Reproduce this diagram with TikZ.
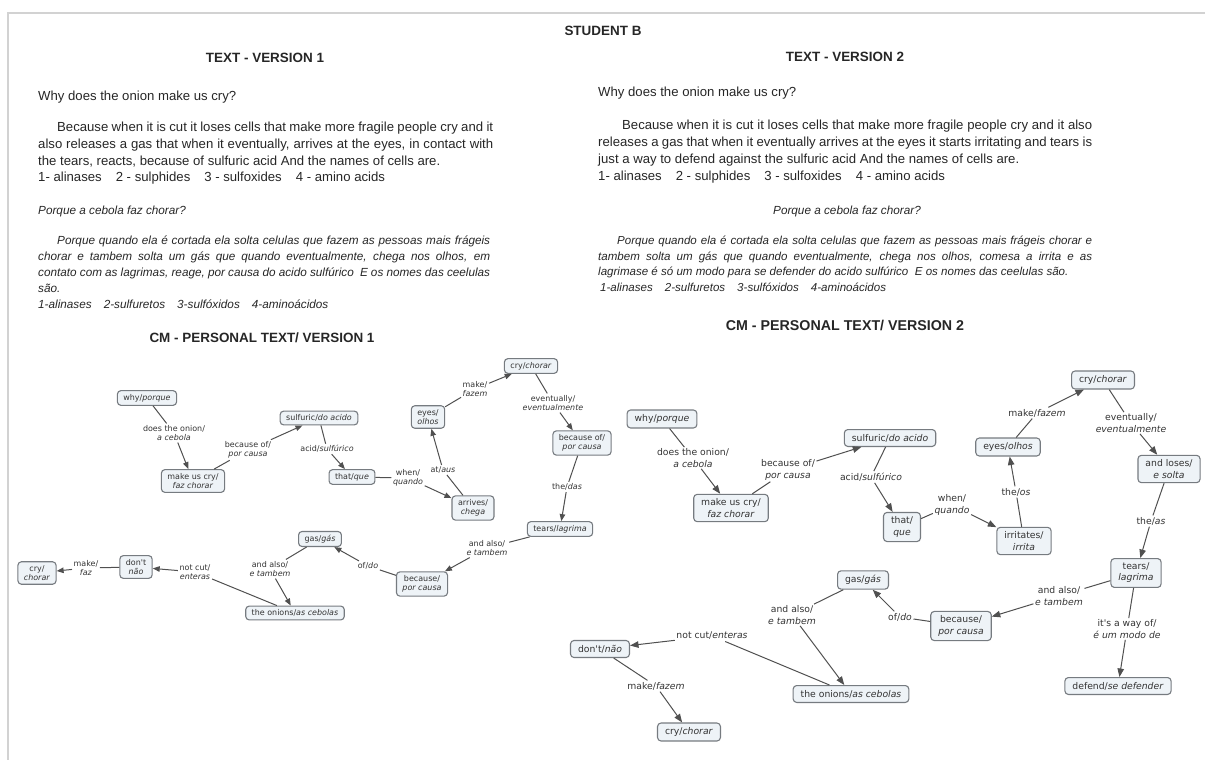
\documentclass[tikz,border=0pt]{standalone}
\usepackage{fontspec}
\setmainfont{Liberation Sans}
\newfontfamily\mapfont{DejaVu Sans}
\usepackage{xcolor}
\usetikzlibrary{arrows.meta}

\definecolor{cfill}{HTML}{EEF3F7}
\definecolor{cborder}{HTML}{767B80}
\definecolor{ctext}{HTML}{333333}
\definecolor{cline}{HTML}{505050}
\definecolor{btext}{HTML}{262626}
\definecolor{framegray}{HTML}{D2D2D2}

\begin{document}
\begin{tikzpicture}[
  x=1bp, y=-1bp,
  every node/.style={text=btext},
  heading/.style={font=\bfseries\fontsize{13.5}{16}\selectfont, inner sep=0pt},
  body/.style={font=\fontsize{13.2}{16.7}\selectfont, inner sep=0pt,
    anchor=north west, align=justify},
  bodyit/.style={font=\itshape\fontsize{11.8}{15.9}\selectfont, inner sep=0pt,
    anchor=north west, align=justify},
  concept/.style={rectangle, rounded corners=3.5bp, draw=cborder,
    line width=1.1bp, fill=cfill, text=ctext, align=center,
    inner xsep=6bp, inner ysep=3.5bp, font=\mapfont\fontsize{8}{9.6}\selectfont},
  link/.style={inner sep=1.5bp, text=ctext, align=center,
    font=\mapfont\fontsize{8}{9.6}\selectfont},
  bigconcept/.style={concept, inner xsep=7.5bp, inner ysep=4.5bp,
    font=\mapfont\fontsize{9.3}{11.2}\selectfont},
  biglink/.style={link, font=\mapfont\fontsize{9.3}{11.2}\selectfont},
  ln/.style={draw=cline, line width=1bp},
  arr/.style={ln, -{Triangle[length=7bp, width=5.5bp]}},
  bigarr/.style={ln, -{Triangle[length=8.5bp, width=6.5bp]}}
]
\useasboundingbox (0,0) rectangle (1205,760);
\draw[framegray, line width=1.5bp] (8,760) -- (8,13) -- (1205,13);

% headings and texts
\node[heading] (student) at (603,31) {STUDENT B};
\node[heading] (tv1) at (265,58) {TEXT - VERSION 1};
\node[heading] (tv2) at (845,57) {TEXT - VERSION 2};

\node[body, align=left] (q1) at (38,91) {Why does the onion make us cry?};
\node[body, text width=455bp] (en1) at (38,122) {%
  \hspace*{19bp}Because when it is cut it loses cells that make more fragile
  people cry and it\linebreak also releases a gas that when it eventually,
  arrives at the eyes, in contact with\linebreak the tears, reacts, because of
  sulfuric acid And the names of cells are.\\
  1- alinases\hspace{14bp}2 - sulphides\hspace{14bp}3 - sulfoxides\hspace{14bp}4 - amino acids};
\node[bodyit, align=left] (qp1) at (38,206) {Porque a cebola faz chorar?};
\node[bodyit, text width=452bp] (pt1) at (38,236) {%
  \hspace*{19bp}Porque quando ela é cortada ela solta celulas que fazem as
  pessoas mais frágeis\linebreak chorar e tambem solta um gás que quando
  eventualmente, chega nos olhos, em\linebreak contato com as lagrimas, reage,
  por causa do acido sulfúrico\ \ E os nomes das ceelulas\linebreak são.\\
  1-alinases\hspace{12bp}2-sulfuretos\hspace{12bp}3-sulfóxidos\hspace{12bp}4-aminoácidos};

\node[body, align=left] (q2) at (598,87) {Why does the onion make us cry?};
\node[body, text width=494bp, font=\fontsize{13.2}{17.1}\selectfont] (en2) at (598,120) {%
  \hspace*{24bp}Because when it is cut it loses cells that make more fragile
  people cry and it also\linebreak releases a gas that when it eventually
  arrives at the eyes it starts irritating and tears is\linebreak just a way to
  defend against the sulfuric acid And the names of cells are.\\
  1- alinases\hspace{14bp}2 - sulphides\hspace{14bp}3 - sulfoxides\hspace{14bp}4 - amino acids};
\node[bodyit, anchor=center, align=center] (qp2) at (847,211) {Porque a cebola faz chorar?};
\node[bodyit, text width=494bp, font=\itshape\fontsize{11.6}{15.5}\selectfont] (pt2) at (598,236) {%
  \hspace*{19bp}Porque quando ela é cortada ela solta celulas que fazem as
  pessoas mais frágeis chorar e\linebreak tambem solta um gás que quando
  eventualmente, chega nos olhos, comesa a irrita e as\linebreak lagrimase é
  só um modo para se defender do acido sulfúrico\ \ E os nomes das ceelulas são.\\
  \hspace*{2bp}1-alinases\hspace{12bp}2-sulfuretos\hspace{12bp}3-sulfóxidos\hspace{12bp}4-aminoácidos};

\node[heading] (cm1) at (262,338) {CM - PERSONAL TEXT/ VERSION 1};
\node[heading, font=\bfseries\fontsize{14.3}{17}\selectfont] (cm2) at (845,325) {CM - PERSONAL TEXT/ VERSION 2};

% concept map 1
\node[concept] (why1) at (147,398) {why/\textit{porque}};
\node[concept] (make1) at (193,481) {make us cry/\\\textit{faz chorar}};
\node[concept] (sulf1) at (319,418) {sulfuric/\textit{do acido}};
\node[concept] (that1) at (352,477) {that/\textit{que}};
\node[concept] (arrv1) at (473,508) {arrives/\\\textit{chega}};
\node[concept] (eyes1) at (428,417) {eyes/\\\textit{olhos}};
\node[concept] (cry1) at (531,366) {cry/\textit{chorar}};
\node[concept] (bec1) at (582,443) {because of/\\\textit{por causa}};
\node[concept] (tears1) at (560,529) {tears/\textit{lagrima}};
\node[concept] (cause1) at (422,584) {because/\\\textit{por causa}};
\node[concept] (gas1) at (320,539) {gas/\textit{gás}};
\node[concept] (onion1) at (295,613) {the onions/\textit{as cebolas}};
\node[concept] (dont1) at (136,567) {don't\\\textit{não}};
\node[concept] (cryb1) at (37,573) {cry/\\\textit{chorar}};

\node[link] (l1) at (174,433) {does the onion/\\\textit{a cebola}};
\node[link] (l2) at (248,450) {because of/\\\textit{por causa}};
\node[link] (l3) at (327,449) {acid/\textit{sulfúrico}};
\node[link] (l4) at (408,478) {when/\\\textit{quando}};
\node[link] (l5) at (443,470) {at/\textit{aus}};
\node[link] (l6) at (475,389) {make/\\\textit{fazem}};
\node[link] (l7) at (553,403) {eventually/\\\textit{eventualmente}};
\node[link] (l8) at (567,487) {the/\textit{das}};
\node[link] (l9) at (487,548) {and also/\\\textit{e tambem}};
\node[link] (l10) at (368,566) {of/\textit{do}};
\node[link] (l11) at (270,569) {and also/\\\textit{e tambem}};
\node[link] (l12) at (195,572) {not cut/\\\textit{enteras}};
\node[link] (l13) at (86,568) {make/\\\textit{faz}};

\draw[ln] (why1) -- (l1); \draw[arr] (l1) -- (make1);
\draw[ln] (make1) -- (l2); \draw[arr] (l2) -- (sulf1);
\draw[ln] (sulf1) -- (l3); \draw[arr] (l3) -- (that1);
\draw[ln] (that1) -- (l4); \draw[arr] (l4) -- (arrv1);
\draw[ln] (arrv1) -- (l5); \draw[arr] (l5) -- (eyes1);
\draw[ln] (eyes1) -- (l6); \draw[arr] (l6) -- (cry1);
\draw[ln] (cry1) -- (l7); \draw[arr] (l7) -- (bec1);
\draw[ln] (bec1) -- (l8); \draw[arr] (l8) -- (tears1);
\draw[ln] (tears1) -- (l9); \draw[arr] (l9) -- (cause1);
\draw[ln] (cause1) -- (l10); \draw[arr] (l10) -- (gas1);
\draw[ln] (gas1) -- (l11); \draw[arr] (l11) -- (onion1);
\draw[ln] (onion1) -- (l12); \draw[arr] (l12) -- (dont1);
\draw[ln] (dont1) -- (l13); \draw[arr] (l13) -- (cryb1);

% concept map 2
\node[bigconcept] (why2) at (662,419) {why/\textit{porque}};
\node[bigconcept] (make2) at (731,508) {make us cry/\\\textit{faz chorar}};
\node[bigconcept] (sulf2) at (890,438) {sulfuric/\textit{do acido}};
\node[bigconcept] (that2) at (902,527) {that/\\\textit{que}};
\node[bigconcept] (irr2) at (1024,541) {irritates/\\\textit{irrita}};
\node[bigconcept] (eyes2) at (1008,447) {eyes/\textit{olhos}};
\node[bigconcept] (cry2) at (1103,380) {cry/\textit{chorar}};
\node[bigconcept] (lose2) at (1169,469) {and loses/\\\textit{e solta}};
\node[bigconcept] (tears2) at (1136,573) {tears/\\\textit{lagrima}};
\node[bigconcept] (cause2) at (961,626) {because/\\\textit{por causa}};
\node[bigconcept] (defend2) at (1118,686) {defend/\textit{se defender}};
\node[bigconcept] (gas2) at (863,580) {gas/\textit{gás}};
\node[bigconcept] (onion2) at (851,694) {the onions/\textit{as cebolas}};
\node[bigconcept] (dont2) at (600,649) {don't/\textit{não}};
\node[bigconcept] (cryb2) at (689,732) {cry/\textit{chorar}};

\node[biglink] (m1) at (693,458) {does the onion/\\\textit{a cebola}};
\node[biglink] (m2) at (788,470) {because of/\\\textit{por causa}};
\node[biglink] (m3) at (871,477) {acid/\textit{sulfúrico}};
\node[biglink] (m4) at (952,505) {when/\\\textit{quando}};
\node[biglink] (m5) at (1016,492) {the/\textit{os}};
\node[biglink] (m6) at (1037,413) {make/\textit{fazem}};
\node[biglink] (m7) at (1131,423) {eventually/\\\textit{eventualmente}};
\node[biglink] (m8) at (1151,521) {the/\textit{as}};
\node[biglink] (m9) at (1059,596) {and also/\\\textit{e tambem}};
\node[biglink] (m10) at (1127,629) {it's a way of/\\\textit{é um modo de}};
\node[biglink] (m11) at (900,617) {of/\textit{do}};
\node[biglink] (m12) at (792,615) {and also/\\\textit{e tambem}};
\node[biglink] (m13) at (712,636) {not cut/\textit{enteras}};
\node[biglink] (m14) at (656,686) {make/\textit{fazem}};

\draw[ln] (why2) -- (m1); \draw[bigarr] (m1) -- (make2);
\draw[ln] (make2) -- (m2); \draw[bigarr] (m2) -- (sulf2);
\draw[ln] (sulf2) -- (m3); \draw[bigarr] (m3) -- (that2);
\draw[ln] (that2) -- (m4); \draw[bigarr] (m4) -- (irr2);
\draw[ln] (irr2) -- (m5); \draw[bigarr] (m5) -- (eyes2);
\draw[ln] (eyes2) -- (m6); \draw[bigarr] (m6) -- (cry2);
\draw[ln] (cry2) -- (m7); \draw[bigarr] (m7) -- (lose2);
\draw[ln] (lose2) -- (m8); \draw[bigarr] (m8) -- (tears2);
\draw[ln] (tears2) -- (m9); \draw[bigarr] (m9) -- (cause2);
\draw[ln] (tears2) -- (m10); \draw[bigarr] (m10) -- (defend2);
\draw[ln] (cause2) -- (m11); \draw[bigarr] (m11) -- (gas2);
\draw[ln] (gas2) -- (m12); \draw[bigarr] (m12) -- (onion2);
\draw[ln] (onion2) -- (m13); \draw[bigarr] (m13) -- (dont2);
\draw[ln] (dont2) -- (m14); \draw[bigarr] (m14) -- (cryb2);

\end{tikzpicture}
\end{document}
